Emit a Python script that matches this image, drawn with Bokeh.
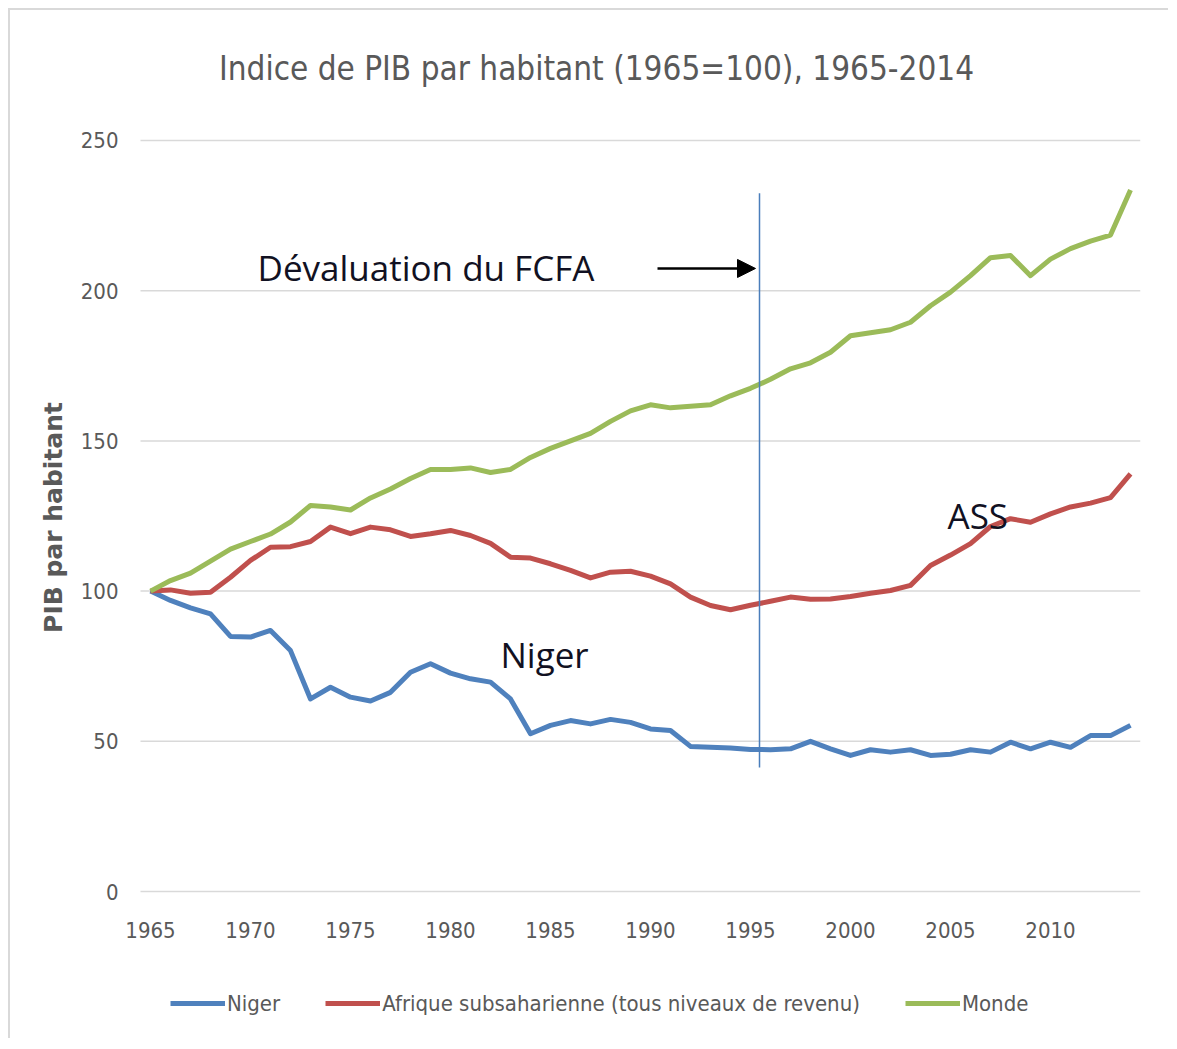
from bokeh.plotting import figure
from bokeh.models import (Range1d, FixedTicker, Label, Arrow, NormalHead, Legend, LegendItem, ColumnDataSource)
from bokeh.embed import file_html
from bokeh.resources import INLINE

years = list(range(1965, 2015))
niger = [100, 96.9, 94.4, 92.4, 84.9, 84.7, 86.9, 80.2, 64.1, 68.0,
         64.7, 63.4, 66.3, 73.0, 75.8, 72.7, 70.8, 69.7, 64.1, 52.5,
         55.3, 56.9, 55.8, 57.3, 56.3, 54.1, 53.6, 48.3, 48.0, 47.8,
         47.3, 47.2, 47.5, 50.0, 47.5, 45.3, 47.2, 46.4, 47.2, 45.3,
         45.7, 47.2, 46.4, 49.7, 47.5, 49.7, 48.0, 51.9, 51.9, 55.3]
ass = [100, 100.4, 99.3, 99.6, 104.6, 110.2, 114.6, 114.8, 116.5, 121.3,
       119.1, 121.3, 120.4, 118.2, 119.1, 120.2, 118.5, 115.9, 111.3, 111.0,
       109.1, 106.9, 104.4, 106.3, 106.6, 105.0, 102.4, 98.0, 95.2, 93.8,
       95.3, 96.6, 98.0, 97.3, 97.4, 98.2, 99.3, 100.2, 101.9, 108.5,
       112.0, 115.8, 121.5, 124.1, 122.9, 125.7, 128.0, 129.3, 131.1, 139.0]
monde = [100, 103.5, 106, 110, 114, 116.5, 119, 123, 128.5, 128,
         127, 131, 134, 137.5, 140.5, 140.5, 141, 139.5, 140.5, 144.5,
         147.5, 150, 152.5, 156.5, 160, 162, 161, 161.5, 162, 165,
         167.5, 170.5, 174, 176, 179.5, 185, 186, 187, 189.5, 195,
         199.5, 205, 211, 211.7, 205, 210.5, 214, 216.5, 218.5, 233.5]
series_names = ["Niger", "Afrique subsaharienne (tous niveaux de revenu)", "Monde"]
x_ticks = [1965, 1970, 1975, 1980, 1985, 1990, 1995, 2000, 2005, 2010]
y_ticks = [0, 50, 100, 150, 200, 250]
devaluation_year = 1995.45

NARROW = "Liberation Sans Narrow, DejaVu Sans Condensed, Liberation Sans"
GRAY = "#595959"
X_START, X_END = 1964.5, 2014.5

p = figure(width=1160, height=1030, output_backend="svg", toolbar_location=None,
           x_range=Range1d(1958.1, X_END), y_range=Range1d(-43.6, 292.6),
           min_border_left=2, min_border_right=30, min_border_top=2, min_border_bottom=18)
p.outline_line_color = None
p.background_fill_color = "white"
p.border_fill_color = "white"
p.styles = {"margin-left": "8px", "margin-top": "8px",
            "border-left": "2px solid #d9d9d9", "border-top": "2px solid #d9d9d9"}

# horizontal gridlines limited to the plotting area
p.xgrid.grid_line_color = None
p.ygrid.grid_line_color = None
p.segment(x0=[X_START] * len(y_ticks), y0=y_ticks, x1=[X_END] * len(y_ticks), y1=y_ticks,
          line_color="#d9d9d9", line_width=1.5)

p.yaxis.ticker = FixedTicker(ticks=y_ticks)
p.xaxis.ticker = FixedTicker(ticks=x_ticks)
p.xaxis.fixed_location = 0
p.yaxis.fixed_location = X_START
for ax in (p.xaxis[0], p.yaxis[0]):
    ax.axis_line_color = None
    ax.major_tick_line_color = None
    ax.minor_tick_line_color = None
    ax.major_tick_out = 0
    ax.major_tick_in = 0
    ax.major_label_text_font = NARROW
    ax.major_label_text_font_size = "22px"
    ax.major_label_text_color = GRAY
p.xaxis.major_label_standoff = 30
p.yaxis.major_label_standoff = 22
p.yaxis.axis_label = "PIB par habitant"
p.yaxis.axis_label_text_font = "DejaVu Sans"
p.yaxis.axis_label_text_font_style = "bold"
p.yaxis.axis_label_text_font_size = "25px"
p.yaxis.axis_label_text_color = GRAY
p.yaxis.axis_label_standoff = 10

src = ColumnDataSource(dict(year=years, niger=niger, ass=ass, monde=monde))
r1 = p.line("year", "niger", source=src, line_color="#4f81bd", line_width=5, line_join="round")
r2 = p.line("year", "ass", source=src, line_color="#c0504d", line_width=5, line_join="round")
r3 = p.line("year", "monde", source=src, line_color="#9bbb59", line_width=5, line_join="round")

# vertical devaluation marker
p.segment(x0=[devaluation_year], y0=[41.3], x1=[devaluation_year], y1=[232.4],
          line_color="#4a7ebb", line_width=1.5)
p.add_layout(Arrow(end=NormalHead(size=18, fill_color="black", line_color="black"),
                   x_start=1990.35, y_start=207.4, x_end=1995.25, y_end=207.4,
                   line_color="black", line_width=2.5))

ANN = "#111122"
p.add_layout(Label(x=1970.35, y=207.7, text="Dévaluation du FCFA", text_font="Open Sans",
                   text_font_size="35px", text_color=ANN, text_baseline="middle"))
p.add_layout(Label(x=1982.5, y=78.9, text="Niger", text_font="Open Sans",
                   text_font_size="35px", text_color=ANN, text_baseline="middle"))
p.add_layout(Label(x=2004.85, y=125.2, text="ASS", text_font="Open Sans",
                   text_font_size="35px", text_color=ANN, text_baseline="middle"))
p.add_layout(Label(x=1987.3, y=274, text="Indice de PIB par habitant (1965=100), 1965-2014",
                   text_font=NARROW, text_font_size="33px", text_color=GRAY,
                   text_align="center", text_baseline="middle"))

legend = Legend(items=[LegendItem(label=series_names[0], renderers=[r1]),
                       LegendItem(label=series_names[1], renderers=[r2]),
                       LegendItem(label=series_names[2], renderers=[r3])],
                orientation="horizontal", location=(158, 4), padding=0, margin=0,
                spacing=45, glyph_width=55, glyph_height=30, label_height=30,
                label_standoff=2, label_text_font=NARROW, label_text_font_size="22px",
                label_text_color=GRAY, border_line_color=None, background_fill_alpha=0)
p.add_layout(legend, "center")

open("out.html", "w").write(file_html(p, INLINE))
